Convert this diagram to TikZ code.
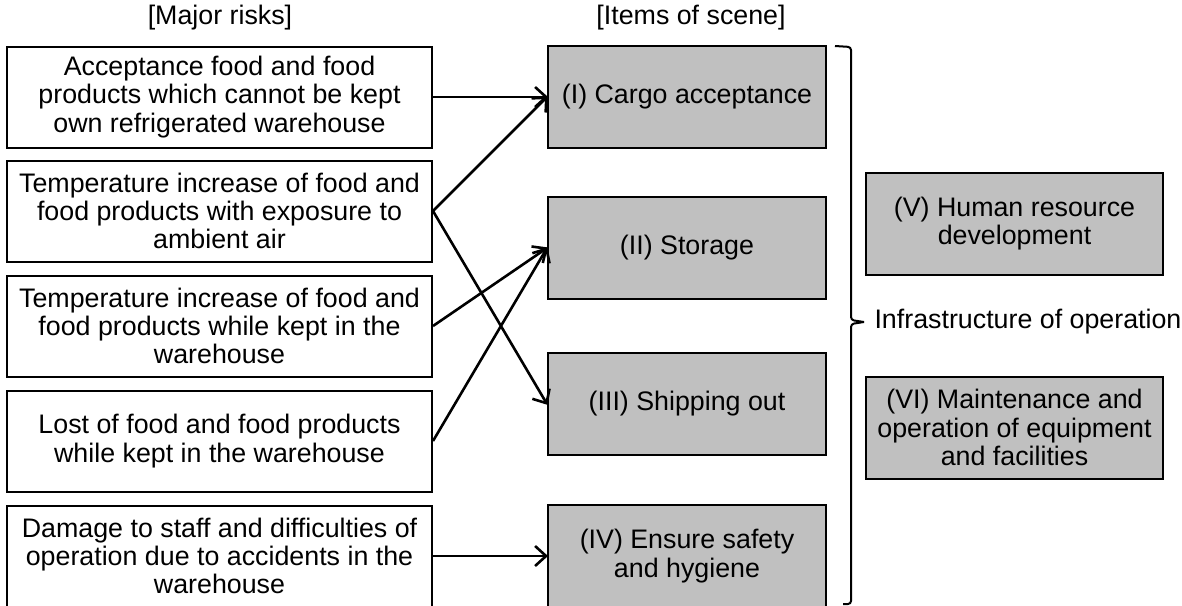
\documentclass[tikz,border=0pt]{standalone}
\usepackage{fontspec}
\setmainfont{Liberation Sans}
\usetikzlibrary{arrows.meta}
\begin{document}
\begin{tikzpicture}[x=1pt,y=-1pt,
  txt/.style={font=\fontsize{26.8}{28.3}\selectfont, align=center},
  riskbox/.style={txt, draw=black, line width=2pt, fill=white, minimum width=425pt, minimum height=101pt, inner sep=0pt},
  itembox/.style={txt, draw=black, line width=2pt, fill=gray75, minimum width=278pt, minimum height=102pt, inner sep=0pt},
  infrabox/.style={txt, draw=black, line width=2pt, fill=gray75, minimum width=297pt, minimum height=102pt, inner sep=0pt},
  conn/.style={line width=2.6pt, -{Straight Barb[length=11pt,width=20pt,line width=2.6pt]}, shorten >=-1pt},
  brace/.style={line width=2pt, rounded corners=3pt}
]
\definecolor{gray75}{HTML}{C0C0C0}
\useasboundingbox (0,0) rectangle (1182,605);
\fill[white] (0,0) rectangle (1182,605);

\node[txt] (hr) at (220,18) {[Major risks]};
\node[txt] (hi) at (691,18) {[Items of scene]};

\node[riskbox] (r1) at (219.5,97) {Acceptance food and food\\products which cannot be kept\\own refrigerated warehouse};
\node[riskbox] (r2) at (219.5,211) {Temperature increase of food and\\food products with exposure to\\ambient air};
\node[riskbox] (r3) at (219.5,326) {Temperature increase of food and\\food products while kept in the\\warehouse};
\node[riskbox] (r4) at (219.5,441) {Lost of food and food products\\while kept in the warehouse};
\node[riskbox] (r5) at (219.5,556) {Damage to staff and difficulties of\\operation due to accidents in the\\warehouse};

\node[itembox] (i1) at (687,97) {(I) Cargo acceptance};
\node[itembox] (i2) at (687,248) {(II) Storage};
\node[itembox] (i3) at (687,404) {(III) Shipping out};
\node[itembox] (i4) at (687,556) {(IV) Ensure safety\\and hygiene};

\node[infrabox] (i5) at (1014.5,223.5) {(V) Human resource\\development};
\node[infrabox] (i6) at (1014.5,427.5) {(VI) Maintenance and\\operation of equipment\\and facilities};

\draw[conn] (r1.east) -- (i1.west);
\draw[conn] (r2.east) -- (i1.west);
\draw[conn] (r2.east) -- (i3.west);
\draw[conn] (r3.east) -- (i2.west);
\draw[conn] (r4.east) -- (i2.west);
\draw[conn] (r5.east) -- (i4.west);

\coordinate (btop) at (835,46);
\coordinate (btip) at (864,322);
\coordinate (bbot) at (843,604);
\draw[brace] (btop) -- (851,47) -- (851,320) -- (btip);
\draw[brace] (btip) -- (851,324) -- (851,604) -- (bbot);
\node[txt, anchor=west] (infra) at (871,322) {Infrastructure of operation};
\end{tikzpicture}
\end{document}
